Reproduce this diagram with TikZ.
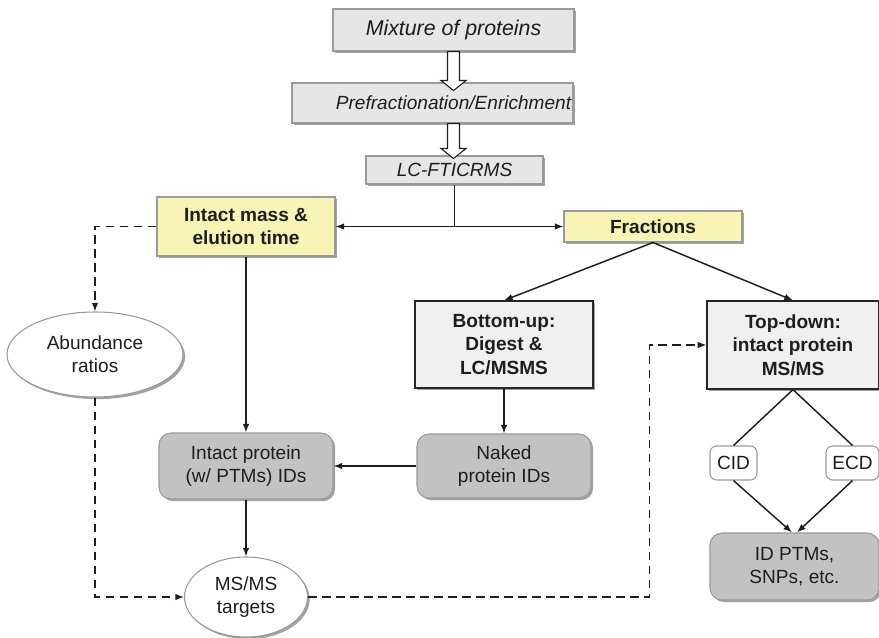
\documentclass[tikz,border=0pt]{standalone}
\usepackage{fontspec}
\setmainfont{Liberation Sans}
\usetikzlibrary{shapes.geometric,shadows,arrows.meta,calc}
\definecolor{txt}{HTML}{1E1E1E}
\definecolor{topfill}{HTML}{E6E6E6}
\definecolor{yel}{HTML}{F8F4B6}
\definecolor{lightfill}{HTML}{F0F0F0}
\definecolor{idfill}{HTML}{C2C2C2}
\definecolor{edge}{HTML}{9A9A9A}
\definecolor{shade}{HTML}{A2A2A2}
\tikzset{
  base/.style={inner sep=0pt, text=txt, align=center, font=\fontsize{14.3}{17.5}\selectfont},
  shd/.style={drop shadow={shadow xshift=1.6pt, shadow yshift=-1.6pt, fill=shade, opacity=1}},
  topbox/.style={base, shd, rectangle, draw=edge, fill=topfill, line width=0.8pt},
  yelbox/.style={base, shd, rectangle, draw=edge, fill=yel, line width=0.8pt, font=\fontsize{14.3}{17.5}\selectfont\bfseries},
  methbox/.style={base, shd, rectangle, draw=black!85, fill=lightfill, line width=0.9pt, font=\fontsize{14.3}{17.5}\selectfont\bfseries},
  idbox/.style={base, shd, rectangle, rounded corners=9pt, draw=edge, fill=idfill, line width=0.8pt},
  oval/.style={base, shd, ellipse, draw=edge, fill=white, line width=0.8pt},
  tagbox/.style={base, rectangle, rounded corners=5pt, draw=edge, fill=white, line width=0.8pt},
  link/.style={draw=txt, line width=1.1pt},
  arr/.style={link, -{Latex[length=6.5pt,width=5pt]}},
  dasharr/.style={arr, dash pattern=on 6.5pt off 4pt},
  hollow/.style={draw=txt, fill=white, line width=0.8pt, line join=miter},
}
% open block arrow running straight down from #1 to tip #2
\newcommand\blockarrow[2]{%
  \draw[hollow] ($(#1)+(-6,0)$) -- ($(#2)+(-6,-10)$) -- ($(#2)+(-12.5,-10)$)
    -- (#2) -- ($(#2)+(12.5,-10)$) -- ($(#2)+(6,-10)$) -- ($(#1)+(6,0)$) -- cycle;}
\begin{document}
\begin{tikzpicture}[x=0.75pt,y=-0.75pt]
\useasboundingbox (0,0) rectangle (879,638);
\clip (0,0) rectangle (879,638);

% sample preparation chain
\node[topbox, minimum width=241*0.75pt, minimum height=42*0.75pt,
      font=\fontsize{16}{19}\selectfont\itshape] (mix) at (453.5,30) {Mixture of proteins};
\node[topbox, minimum width=281*0.75pt, minimum height=40*0.75pt] (pre) at (432.5,103) {};
\node[base, font=\fontsize{14.3}{17.5}\selectfont\itshape] (pretext) at (453.5,103) {Prefractionation/Enrichment};
\node[topbox, minimum width=177*0.75pt, minimum height=28*0.75pt,
      font=\fontsize{14.3}{17.5}\selectfont\itshape] (lc) at (454.5,170) {LC-FTICRMS};

\coordinate (a1top) at (mix.south);
\coordinate (a1tip) at ($(mix.south)+(0,39)$);
\coordinate (a2top) at (mix.south |- pre.south);
\coordinate (a2tip) at ($(a2top)+(0,35)$);
\blockarrow{a1top}{a1tip}
\blockarrow{a2top}{a2tip}

% first split
\node[yelbox, minimum width=178*0.75pt, minimum height=59*0.75pt] (im) at (246,226.5) {Intact mass \&\\elution time};
\node[yelbox, minimum width=178*0.75pt, minimum height=31*0.75pt] (fr) at (653,226.5) {Fractions};

\coordinate (split) at (lc.south |- im.east);
\draw[link] (lc.south) -- (split);
\draw[arr] (split) -- (im.east);
\draw[arr] (split) -- (fr.west);

% left branch
\node[oval, minimum width=176*0.75pt, minimum height=85*0.75pt] (ab) at (95,354.5) {Abundance\\ratios};
\node[idbox, minimum width=174*0.75pt, minimum height=66*0.75pt] (ip) at (246,466) {Intact protein\\(w/ PTMs) IDs};
\node[oval, minimum width=123*0.75pt, minimum height=80*0.75pt] (ms) at (246,597) {MS/MS\\targets};

% bottom-up and top-down
\node[methbox, minimum width=178*0.75pt, minimum height=87*0.75pt] (bu) at (504,344.5) {Bottom-up:\\Digest \&\\LC/MSMS};
\node[methbox, minimum width=172*0.75pt, minimum height=88*0.75pt] (td) at (793,345) {Top-down:\\intact protein\\MS/MS};
\node[idbox, minimum width=174*0.75pt, minimum height=64*0.75pt] (nk) at (504,466) {Naked\\protein IDs};

\node[tagbox, minimum width=47*0.75pt, minimum height=34*0.75pt] (cid) at (733.5,463) {CID};
\node[tagbox, minimum width=53*0.75pt, minimum height=34*0.75pt] (ecd) at (852.5,463) {ECD};
\node[idbox, minimum width=169*0.75pt, minimum height=67*0.75pt] (id) at (794.5,566.5) {ID PTMs,\\SNPs, etc.};

% connectors
\draw[dasharr] (im.west) -| (ab.north);
\draw[arr] (im.south) -- (ip.north);
\draw[arr] (fr.south) -- (bu.north);
\draw[arr] (fr.south) -- (td.north);
\draw[arr] (bu.south) -- (nk.north);
\draw[arr] (nk.west) -- (ip.east);
\draw[arr] (ip.south) -- (ms.north);
\draw[dasharr] (ab.south) |- (ms.west);
\coordinate (up) at ($(td.west)+(-57,0)$);
\draw[dasharr] (ms.east) -| (up) -- (td.west);
\draw[link] (td.south) -- (cid.north);
\draw[link] (td.south) -- (ecd.north);
\draw[arr] (cid.south) -- ($(id.north)+(-2.5,0)$);
\draw[arr] (ecd.south) -- ($(id.north)+(2.5,0)$);
\end{tikzpicture}
\end{document}
